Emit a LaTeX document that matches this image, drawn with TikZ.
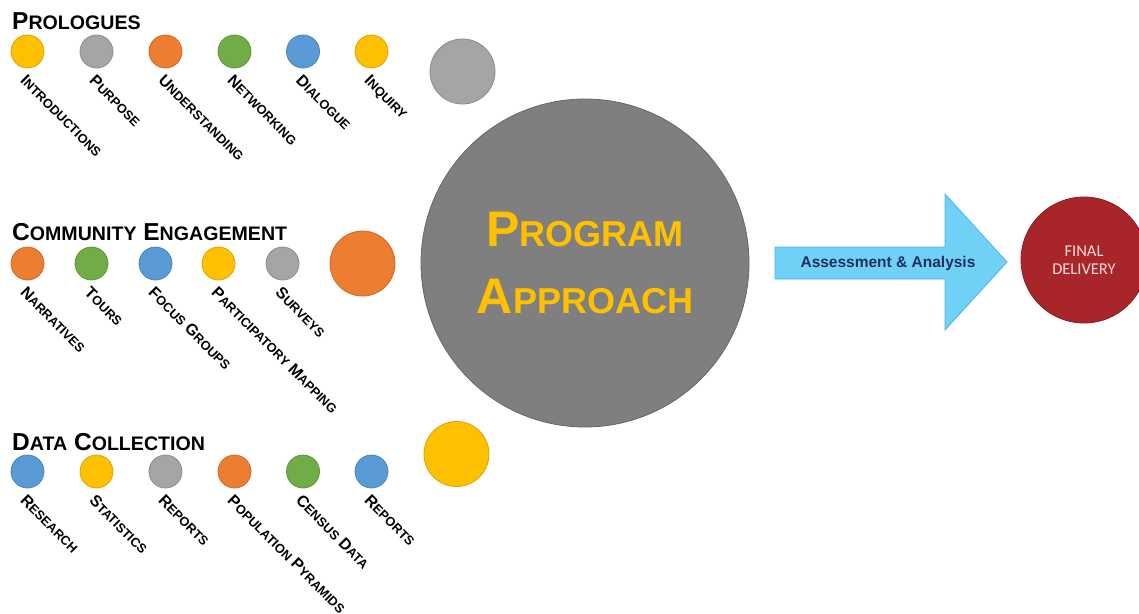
\documentclass[tikz,border=0pt]{standalone}
\usepackage{fontspec}
\usepackage{graphicx}
\setmainfont{Liberation Sans}
\newfontfamily\calib{Carlito}
\usetikzlibrary{calc}
\definecolor{offyellow}{RGB}{255,192,0}
\definecolor{offgray}{RGB}{165,165,165}
\definecolor{offorange}{RGB}{237,125,49}
\definecolor{offgreen}{RGB}{112,173,71}
\definecolor{offblue}{RGB}{91,155,213}
\definecolor{coregray}{RGB}{127,127,127}
\definecolor{deliverred}{RGB}{168,38,42}
\definecolor{arrowblue}{RGB}{112,208,245}
\definecolor{arrowedge}{RGB}{80,180,225}
\definecolor{navytext}{RGB}{30,48,96}
% fake small caps: big first letter, smaller rest
\newcommand{\sca}[2]{#1\scalebox{0.8}{#2}}
\newcommand{\scb}[2]{#1\scalebox{0.72}{#2}}
\begin{document}
\begin{tikzpicture}
			[x=1pt, y=-1pt,
			spot/.style = {shape=circle, minimum size=33pt, inner sep=0pt, line width=0.8pt, fill=#1, draw=#1!85!black},
			bigspot/.style = {spot=#1, minimum size=65pt},
			lbl/.style = {rotate=-45, anchor=north west, inner sep=0pt, font=\fontsize{16}{16}\selectfont\bfseries},
			heading/.style = {anchor=base west, inner sep=0pt, font=\fontsize{24.5}{24.5}\selectfont\bfseries}]
			\useasboundingbox (0,0) rectangle (1139,613);
			% prologues
			\node[heading] (hpro) at (12,29.5) {\sca{P}{ROLOGUES}};
			\node[spot=offyellow] (p1) at (27.5,51.5) {};
			\node[spot=offgray] (p2) at (96.5,51.5) {};
			\node[spot=offorange] (p3) at (165.5,51.5) {};
			\node[spot=offgreen] (p4) at (234.5,51.5) {};
			\node[spot=offblue] (p5) at (303,51.5) {};
			\node[spot=offyellow] (p6) at (371.5,51.5) {};
			\node[bigspot=offgray] (pbig) at (462.5,71.5) {};
			\node[lbl] (lp1) at ($(p1)+(0,22)$) {\sca{I}{NTRODUCTIONS}};
			\node[lbl] (lp2) at ($(p2)+(0,22)$) {\sca{P}{URPOSE}};
			\node[lbl] (lp3) at ($(p3)+(0,22)$) {\sca{U}{NDERSTANDING}};
			\node[lbl] (lp4) at ($(p4)+(0,22)$) {\sca{N}{ETWORKING}};
			\node[lbl] (lp5) at ($(p5)+(0,22)$) {\sca{D}{IALOGUE}};
			\node[lbl] (lp6) at ($(p6)+(0,22)$) {\sca{I}{NQUIRY}};
			% community engagement
			\node[heading] (hcom) at (12,240.5) {\sca{C}{OMMUNITY} \sca{E}{NGAGEMENT}};
			\node[spot=offorange] (c1) at (27.5,263.5) {};
			\node[spot=offgreen] (c2) at (91.5,263.5) {};
			\node[spot=offblue] (c3) at (155.5,263.5) {};
			\node[spot=offyellow] (c4) at (218.5,263.5) {};
			\node[spot=offgray] (c5) at (282.5,263.5) {};
			\node[bigspot=offorange] (cbig) at (362.5,263.5) {};
			\node[lbl] (lc1) at ($(c1)+(0,22)$) {\sca{N}{ARRATIVES}};
			\node[lbl] (lc2) at ($(c2)+(0,22)$) {\sca{T}{OURS}};
			\node[lbl] (lc3) at ($(c3)+(0,22)$) {\sca{F}{OCUS} \sca{G}{ROUPS}};
			\node[lbl] (lc4) at ($(c4)+(0,22)$) {\sca{P}{ARTICIPATORY} \sca{M}{APPING}};
			\node[lbl] (lc5) at ($(c5)+(0,22)$) {\sca{S}{URVEYS}};
			% data collection
			\node[heading] (hdat) at (12,450) {\sca{D}{ATA} \sca{C}{OLLECTION}};
			\node[spot=offblue] (d1) at (27.5,471.5) {};
			\node[spot=offyellow] (d2) at (96.5,471.5) {};
			\node[spot=offgray] (d3) at (165.5,471.5) {};
			\node[spot=offorange] (d4) at (234.5,471.5) {};
			\node[spot=offgreen] (d5) at (303,471.5) {};
			\node[spot=offblue] (d6) at (371.5,471.5) {};
			\node[bigspot=offyellow] (dbig) at (456.5,454) {};
			\node[lbl] (ld1) at ($(d1)+(0,22)$) {\sca{R}{ESEARCH}};
			\node[lbl] (ld2) at ($(d2)+(0,22)$) {\sca{S}{TATISTICS}};
			\node[lbl] (ld3) at ($(d3)+(0,22)$) {\sca{R}{EPORTS}};
			\node[lbl] (ld4) at ($(d4)+(0,22)$) {\sca{P}{OPULATION} \sca{P}{YRAMIDS}};
			\node[lbl] (ld5) at ($(d5)+(0,22)$) {\sca{C}{ENSUS} \sca{D}{ATA}};
			\node[lbl] (ld6) at ($(d6)+(0,22)$) {\sca{R}{EPORTS}};
			% core circle
			\node[shape=circle, minimum size=328pt, inner sep=0pt, line width=0.8pt, fill=coregray, draw=coregray!80!black,
				text=offyellow, align=center, font=\fontsize{50}{67}\selectfont\bfseries] (prog) at (585,263)
				{\scb{P}{ROGRAM}\\\scb{A}{PPROACH}};
			% block arrow
			\filldraw[fill=arrowblue, draw=arrowedge, line width=0.8pt]
				(775,247) -- (945,247) -- (945,194) -- (1007,262) -- (945,330) -- (945,279) -- (775,279) -- cycle;
			\node[font=\fontsize{15.5}{15.5}\selectfont\bfseries, text=navytext] (assess) at (888,263) {Assessment \& Analysis};
			% final circle
			\node[shape=circle, minimum size=126pt, inner sep=0pt, line width=0.8pt, fill=deliverred, draw=deliverred!80!black,
				text=white!85!red, align=center, font=\calib\fontsize{16.5}{18.5}\selectfont] (final) at (1084,260)
				{FINAL\\DELIVERY};
		\end{tikzpicture}
\end{document}
